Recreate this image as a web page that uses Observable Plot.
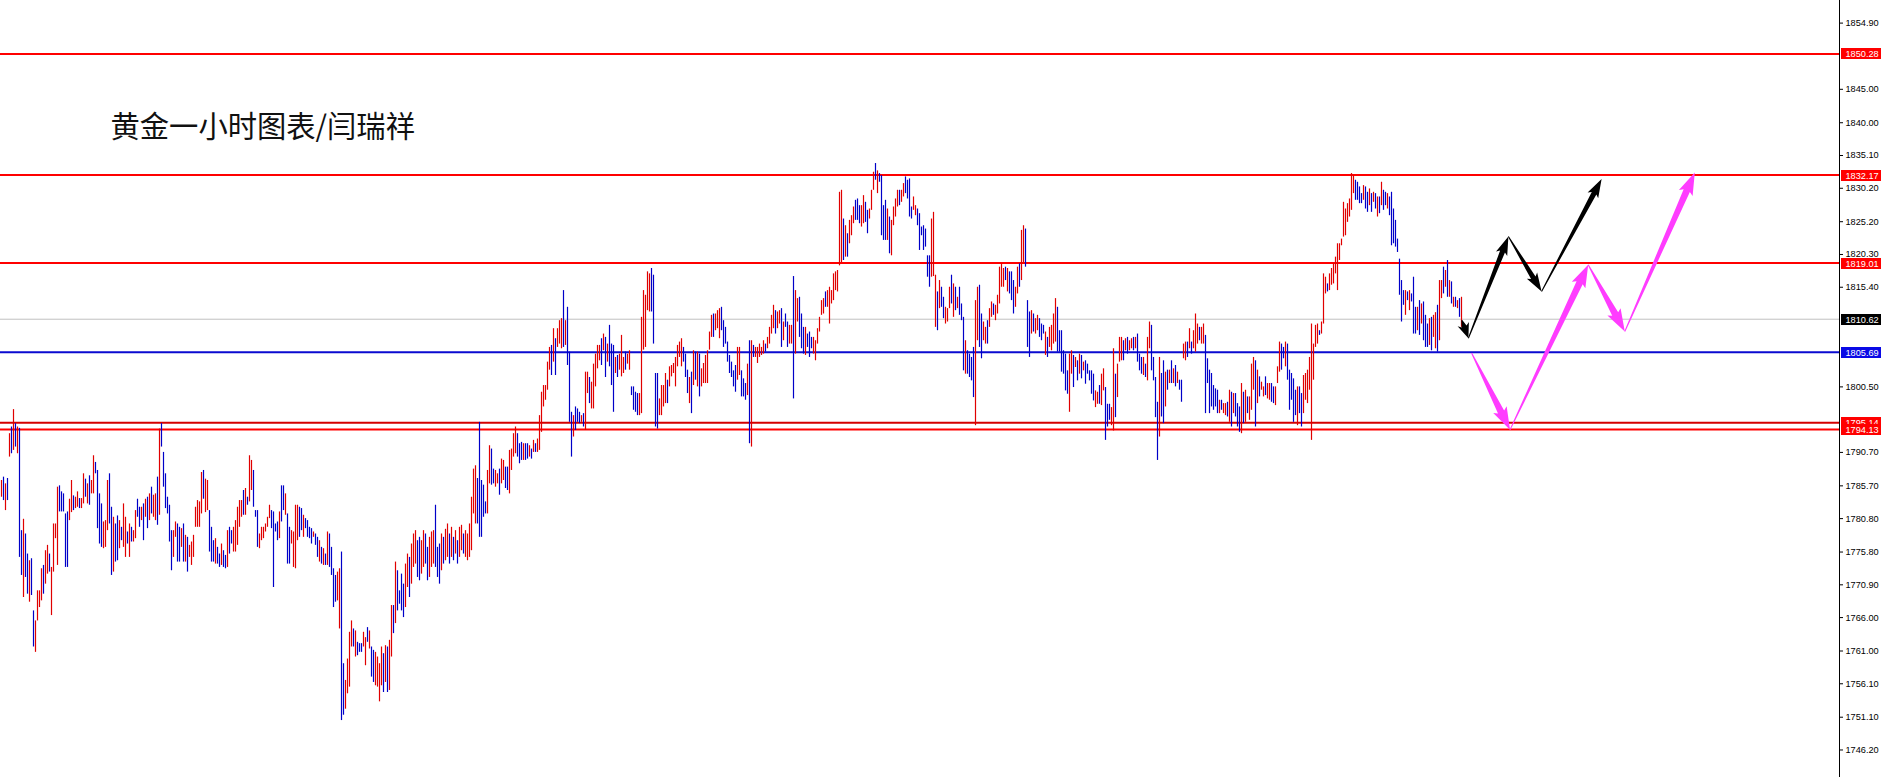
<!DOCTYPE html>
<html>
<head>
<meta charset="utf-8">
<script src="https://cdn.jsdelivr.net/npm/d3@7"></script>
<script src="https://cdn.jsdelivr.net/npm/@observablehq/plot@0.6"></script>
<style>
  html, body { margin: 0; padding: 0; background: #fff; overflow: hidden; }
  #chart svg { display: block; }
</style>
</head>
<body>
<div id="chart"></div>
<script>
// ---------- chart text ----------
const title = "黄金一小时图表/闫瑞祥";

// ---------- hourly bars (high / low / direction u=up d=down), bar 0 is the oldest ----------
const highs = [
1786.5,1787.0,1786.0,1786.8,1793.5,1794.5,1797.1,1795.0,1794.5,1794.3,
1779.0,1780.7,1778.5,1775.5,1774.5,1774.8,1767.0,1765.5,1770.0,1770.0,
1773.3,1773.8,1776.0,1776.8,1775.5,1773.5,1780.0,1780.0,1785.5,1785.7,
1784.8,1784.5,1781.5,1781.8,1783.7,1786.5,1784.2,1784.0,1784.8,1783.8,
1783.8,1787.5,1786.7,1786.0,1787.2,1786.5,1790.2,1789.2,1788.0,1784.5,
1783.0,1780.3,1780.5,1786.5,1787.5,1782.5,1781.0,1780.0,1781.2,1780.5,
1779.5,1783.0,1781.0,1778.8,1780.0,1779.5,1779.0,1782.0,1783.7,1782.5,
1782.5,1783.0,1783.7,1784.0,1784.5,1785.5,1784.3,1784.5,1787.0,1794.2,
1795.0,1790.7,1787.5,1784.0,1782.8,1779.0,1779.0,1780.3,1780.0,1779.5,
1779.3,1780.0,1778.3,1778.0,1776.8,1777.3,1778.3,1782.5,1783.5,1783.3,
1787.7,1788.0,1786.7,1786.5,1782.0,1779.5,1777.5,1777.8,1776.5,1775.5,
1777.0,1776.0,1775.3,1779.0,1779.5,1779.0,1779.5,1780.5,1782.5,1783.5,
1783.5,1785.0,1785.3,1784.0,1790.2,1789.5,1788.0,1782.0,1782.0,1778.5,
1779.5,1779.5,1780.0,1781.0,1782.8,1782.0,1781.8,1780.0,1780.3,1781.8,
1785.7,1785.7,1784.5,1781.5,1779.5,1779.0,1778.8,1782.8,1782.8,1782.5,
1782.3,1781.3,1780.8,1780.5,1779.5,1779.3,1778.8,1778.5,1778.0,1777.5,
1776.5,1776.3,1775.5,1778.8,1778.5,1776.5,1773.3,1772.3,1772.8,1773.3,
1775.8,1759.1,1756.6,1759.8,1763.8,1765.5,1764.3,1764.0,1762.3,1762.1,
1762.1,1763.8,1763.0,1764.5,1764.0,1761.6,1761.1,1760.8,1760.1,1759.1,
1761.6,1760.6,1761.8,1761.6,1762.6,1767.8,1767.8,1774.3,1773.0,1770.0,
1772.5,1771.0,1774.0,1775.5,1775.0,1777.0,1778.5,1779.0,1777.5,1778.0,
1777.5,1779.0,1778.5,1776.5,1778.0,1778.8,1779.0,1782.8,1776.5,1777.0,
1778.5,1778.0,1779.2,1780.0,1778.5,1779.5,1778.0,1779.0,1777.5,1779.5,
1779.8,1778.5,1779.0,1778.5,1780.0,1784.0,1788.2,1788.7,1786.8,1795.2,
1786.5,1785.8,1783.3,1788.0,1791.7,1791.2,1788.2,1788.0,1787.5,1788.2,
1789.7,1789.5,1788.5,1788.5,1791.0,1791.2,1793.5,1794.5,1793.5,1792.0,
1792.2,1792.0,1792.0,1792.0,1791.7,1791.2,1792.5,1792.0,1792.7,1796.2,
1799.7,1800.7,1800.7,1804.2,1806.4,1806.7,1809.2,1807.7,1809.2,1810.4,
1810.7,1814.9,1810.4,1812.4,1805.7,1796.7,1796.2,1797.5,1797.2,1796.7,
1796.2,1796.5,1802.7,1802.7,1801.9,1801.2,1803.9,1805.4,1806.7,1806.7,
1807.7,1808.4,1807.9,1806.9,1809.7,1806.9,1806.7,1804.9,1805.2,1805.4,
1808.2,1804.9,1805.7,1805.4,1805.9,1800.5,1800.5,1799.7,1799.5,1799.5,
1810.9,1814.9,1814.2,1817.7,1817.4,1818.2,1817.2,1802.5,1802.5,1798.7,
1800.7,1800.7,1802.5,1801.5,1803.5,1803.7,1804.0,1804.9,1806.7,1807.2,
1807.7,1806.4,1805.4,1803.0,1801.9,1802.7,1805.9,1805.7,1805.7,1805.4,
1803.2,1804.0,1805.2,1805.9,1808.7,1811.2,1811.4,1811.4,1811.9,1812.2,
1812.4,1810.4,1809.4,1807.2,1805.2,1804.2,1802.9,1803.7,1806.4,1806.4,
1802.9,1801.7,1801.0,1803.9,1807.4,1807.4,1806.7,1806.4,1806.4,1806.9,
1806.4,1807.4,1806.9,1807.9,1809.4,1811.2,1812.7,1811.9,1811.7,1811.9,
1812.2,1810.2,1811.4,1810.2,1809.7,1809.7,1817.0,1814.9,1813.7,1813.9,
1811.4,1809.4,1809.4,1808.4,1808.7,1807.9,1807.9,1807.4,1809.2,1810.9,
1813.4,1813.7,1814.7,1814.9,1815.4,1814.9,1817.4,1817.7,1817.9,1829.6,
1829.9,1825.6,1824.6,1823.4,1825.4,1826.1,1827.4,1828.4,1828.6,1827.6,
1827.6,1829.1,1828.1,1826.9,1827.1,1829.9,1832.6,1833.9,1832.8,1832.4,
1832.1,1827.6,1828.4,1827.1,1825.9,1825.4,1827.4,1828.6,1829.9,1829.9,
1829.9,1830.9,1831.9,1831.4,1831.6,1827.4,1828.9,1827.6,1827.1,1826.4,
1824.4,1824.6,1824.1,1820.1,1820.1,1825.6,1826.6,1817.2,1814.7,1816.4,
1815.4,1813.9,1812.4,1812.2,1815.4,1817.2,1815.9,1815.4,1813.9,1815.4,
1812.9,1810.9,1807.4,1805.9,1805.4,1804.9,1806.4,1813.4,1815.4,1815.7,
1811.4,1810.2,1809.4,1810.4,1812.2,1813.2,1812.9,1812.7,1814.2,1818.4,
1818.9,1818.2,1818.4,1818.2,1817.7,1817.7,1816.4,1815.4,1818.4,1818.9,
1823.9,1824.6,1824.1,1813.4,1811.7,1811.9,1811.4,1810.7,1811.2,1810.7,
1809.9,1809.7,1808.7,1807.9,1809.4,1809.7,1811.4,1813.7,1812.4,1808.9,
1808.9,1805.9,1805.4,1802.9,1805.4,1805.9,1805.2,1804.9,1804.4,1805.4,
1805.2,1804.2,1804.4,1803.9,1802.9,1802.9,1802.4,1799.9,1799.7,1800.7,
1802.4,1803.2,1800.4,1797.9,1797.9,1797.4,1806.2,1802.4,1803.9,1807.9,
1807.9,1807.4,1807.7,1807.9,1807.4,1807.7,1807.9,1807.9,1808.4,1805.4,
1804.9,1804.9,1803.9,1807.9,1810.2,1809.7,1804.9,1801.9,1798.2,1804.9,
1802.5,1804.4,1802.7,1803.0,1803.0,1804.4,1803.2,1803.7,1802.7,1801.5,
1801.5,1806.9,1807.2,1807.2,1809.2,1807.2,1808.9,1811.4,1809.9,1809.4,
1809.4,1809.9,1808.2,1804.7,1803.0,1802.5,1800.7,1800.2,1800.0,1798.5,
1798.5,1798.0,1798.0,1798.2,1800.0,1799.7,1799.5,1799.5,1798.0,1797.5,
1801.0,1799.7,1800.0,1799.0,1799.0,1803.9,1804.9,1804.4,1803.0,1802.0,
1801.2,1800.5,1802.0,1801.0,1801.0,1801.0,1800.5,1800.5,1803.5,1807.2,
1806.9,1806.4,1807.2,1806.9,1803.0,1802.5,1801.7,1800.0,1800.5,1800.5,
1799.5,1802.2,1802.5,1803.0,1804.9,1809.9,1806.9,1809.7,1809.9,1808.9,
1810.2,1817.4,1816.9,1815.9,1817.4,1818.2,1818.9,1819.9,1821.9,1821.9,
1822.6,1828.1,1827.1,1827.9,1828.6,1832.4,1832.1,1831.4,1831.1,1830.4,
1829.4,1830.6,1830.4,1829.6,1830.1,1829.4,1829.6,1829.4,1828.9,1828.9,
1831.1,1829.9,1829.6,1829.4,1828.9,1829.6,1827.1,1825.4,1822.6,1819.6,
1816.4,1814.9,1814.9,1814.7,1814.9,1814.4,1816.9,1812.4,1812.4,1813.4,
1812.9,1813.2,1811.2,1809.9,1810.7,1810.9,1811.2,1811.6,1812.7,1816.4,
1816.4,1818.4,1817.9,1819.4,1816.4,1816.2,1813.9,1813.9,1813.4,1813.7,1813.9
];
const lows = [
1784.0,1783.5,1782.0,1783.5,1790.0,1790.5,1791.0,1791.5,1790.5,1775.0,
1772.3,1769.0,1772.0,1769.5,1768.3,1769.3,1761.6,1760.8,1765.5,1767.5,
1768.5,1769.5,1771.0,1772.5,1772.8,1766.3,1772.8,1777.8,1773.8,1781.8,
1781.8,1781.8,1773.5,1773.5,1780.5,1781.7,1782.0,1782.3,1782.5,1782.3,
1782.3,1783.0,1784.0,1783.0,1782.8,1784.5,1784.5,1787.5,1779.3,1777.0,
1776.5,1776.3,1776.5,1779.0,1780.0,1772.3,1772.8,1774.3,1774.5,1776.3,
1777.5,1776.5,1775.0,1777.0,1775.0,1777.3,1777.3,1777.8,1781.0,1779.5,
1780.5,1777.5,1781.0,1779.3,1780.5,1781.5,1781.0,1780.5,1779.8,1781.3,
1791.5,1785.5,1782.3,1781.5,1777.3,1773.0,1775.0,1778.0,1774.3,1774.3,
1776.5,1774.3,1774.3,1772.8,1775.0,1773.8,1775.0,1779.5,1779.5,1779.5,
1781.5,1783.7,1781.7,1782.0,1775.8,1774.3,1774.3,1774.0,1774.0,1773.5,
1773.8,1773.5,1773.3,1773.5,1775.5,1777.0,1775.8,1775.8,1776.8,1779.5,
1781.0,1781.3,1781.3,1782.8,1783.3,1785.0,1782.5,1781.0,1776.5,1776.3,
1777.5,1777.8,1778.8,1779.5,1780.8,1779.3,1770.5,1778.8,1777.5,1777.8,
1780.3,1782.0,1781.3,1774.0,1774.0,1777.0,1773.5,1773.3,1777.5,1778.0,
1779.0,1778.0,1779.3,1778.0,1777.8,1777.0,1778.0,1776.8,1775.0,1774.3,
1774.0,1773.8,1773.8,1773.8,1773.5,1772.3,1767.5,1768.3,1768.5,1764.3,
1750.6,1751.4,1752.3,1754.6,1755.6,1761.6,1761.6,1760.1,1760.3,1760.8,
1760.8,1761.6,1758.8,1762.3,1761.3,1757.1,1756.3,1755.8,1755.6,1753.4,
1755.8,1754.8,1756.3,1754.8,1755.1,1760.1,1763.6,1765.1,1767.0,1768.0,
1767.0,1766.0,1767.5,1770.5,1769.0,1771.0,1773.5,1774.0,1772.0,1771.5,
1772.5,1773.5,1774.0,1771.5,1772.0,1773.5,1774.0,1773.5,1772.0,1771.0,
1773.0,1774.0,1774.5,1775.0,1774.0,1775.0,1774.5,1775.5,1774.0,1775.0,
1776.0,1775.5,1775.0,1774.5,1775.0,1776.0,1781.5,1780.0,1780.0,1778.0,
1778.0,1781.0,1781.5,1781.5,1786.0,1785.8,1786.0,1785.5,1786.0,1784.3,
1786.0,1786.5,1785.3,1785.0,1784.5,1788.0,1790.0,1790.5,1790.0,1789.0,
1789.5,1789.5,1789.5,1789.7,1790.0,1789.7,1790.7,1790.7,1790.7,1791.0,
1793.7,1797.5,1798.5,1800.0,1803.0,1802.2,1804.2,1802.2,1806.4,1806.9,
1806.2,1806.4,1806.7,1803.7,1795.2,1790.0,1793.0,1794.0,1795.2,1795.0,
1795.2,1794.5,1794.0,1799.5,1798.0,1797.2,1797.2,1800.5,1803.2,1804.4,
1803.7,1805.9,1801.9,1804.2,1803.5,1800.7,1796.7,1802.5,1801.9,1803.0,
1802.0,1802.5,1803.0,1803.9,1803.0,1799.2,1797.0,1796.7,1796.2,1796.2,
1796.5,1806.0,1806.4,1811.9,1811.7,1811.7,1806.9,1794.5,1794.2,1796.2,
1796.2,1797.5,1798.0,1798.0,1800.5,1802.0,1802.5,1800.5,1803.5,1804.9,
1803.5,1804.2,1801.9,1799.5,1798.0,1796.5,1800.7,1801.5,1800.5,1799.0,
1800.5,1801.0,1801.0,1801.0,1806.0,1807.9,1807.9,1808.9,1809.2,1807.7,
1808.9,1806.4,1806.9,1804.2,1802.5,1801.9,1800.5,1799.7,1801.5,1802.2,
1799.0,1799.0,1798.5,1799.2,1792.0,1791.5,1804.9,1804.9,1804.0,1804.9,
1805.2,1805.4,1805.7,1806.2,1806.9,1808.4,1809.2,1808.4,1809.2,1809.9,
1806.4,1807.4,1809.4,1806.4,1806.9,1806.9,1798.7,1805.4,1810.2,1807.9,
1806.2,1805.4,1805.2,1806.4,1804.9,1806.2,1805.4,1804.4,1806.9,1808.7,
1811.2,1811.4,1812.4,1812.4,1809.9,1812.9,1813.4,1814.9,1814.7,1818.6,
1819.1,1819.4,1819.9,1819.9,1821.9,1823.1,1824.9,1825.4,1825.4,1824.9,
1824.4,1824.9,1825.1,1823.4,1825.6,1826.9,1829.9,1831.4,1829.4,1831.1,
1823.1,1822.4,1822.4,1822.4,1820.4,1820.1,1824.6,1825.9,1827.4,1827.6,
1828.1,1828.9,1829.4,1828.6,1825.9,1825.6,1826.9,1826.1,1824.6,1820.9,
1823.1,1820.9,1821.4,1816.9,1815.4,1816.9,1817.0,1809.4,1808.9,1812.2,
1812.4,1810.7,1809.9,1810.2,1812.2,1812.9,1810.9,1811.9,1812.2,1811.2,
1810.4,1802.9,1802.4,1802.4,1801.9,1801.4,1798.9,1794.7,1807.4,1806.4,
1804.7,1807.4,1806.9,1806.9,1809.4,1810.9,1811.2,1810.4,1811.4,1812.9,
1815.4,1815.4,1816.4,1814.7,1814.4,1813.4,1811.4,1812.4,1814.4,1815.4,
1816.4,1819.1,1818.4,1806.4,1804.9,1808.4,1808.7,1808.4,1808.9,1807.9,
1807.4,1808.4,1805.2,1804.9,1806.4,1805.9,1806.9,1807.2,1805.7,1805.7,
1802.7,1802.4,1799.9,1799.4,1796.7,1802.4,1800.4,1803.4,1801.4,1802.4,
1801.7,1802.9,1800.9,1802.4,1801.4,1799.4,1798.4,1797.4,1797.9,1797.9,
1797.7,1799.9,1792.5,1794.5,1795.5,1794.7,1793.9,1795.9,1798.9,1804.2,
1804.4,1804.4,1805.9,1805.4,1805.9,1806.2,1805.9,1806.2,1804.2,1802.9,
1802.4,1802.2,1801.9,1801.4,1806.2,1802.9,1801.4,1795.9,1789.5,1793.0,
1796.0,1795.0,1797.5,1800.0,1801.0,1801.0,1801.0,1800.5,1801.0,1800.0,
1798.2,1804.7,1804.4,1804.9,1806.2,1805.4,1806.2,1805.7,1806.9,1807.4,
1806.9,1806.9,1796.5,1801.0,1796.5,1797.5,1797.0,1797.5,1796.5,1796.5,
1797.0,1796.5,1796.2,1796.0,1795.2,1794.5,1796.5,1796.0,1794.5,1793.7,
1793.5,1795.0,1795.2,1796.5,1795.5,1797.0,1800.0,1794.5,1798.0,1799.0,
1800.0,1799.0,1799.2,1798.7,1798.5,1798.2,1798.0,1797.7,1801.0,1802.7,
1803.0,1804.7,1803.5,1801.5,1797.0,1798.5,1795.2,1796.2,1794.7,1796.5,
1794.5,1796.5,1798.5,1798.0,1800.0,1792.5,1801.5,1806.4,1806.9,1808.2,
1808.4,1809.9,1814.4,1814.7,1814.9,1815.7,1815.9,1817.4,1814.9,1819.4,
1821.6,1822.9,1823.1,1825.1,1825.9,1826.9,1829.4,1828.4,1828.4,1827.9,
1827.9,1828.4,1827.1,1826.6,1827.6,1826.6,1828.1,1827.1,1825.9,1826.4,
1827.6,1826.9,1827.6,1827.1,1826.1,1821.6,1821.9,1821.4,1820.6,1814.2,
1810.2,1812.7,1811.2,1813.4,1811.9,1813.2,1808.4,1808.4,1808.9,1808.2,
1809.9,1807.4,1806.4,1806.4,1806.7,1805.9,1807.9,1806.2,1805.7,1807.4,
1813.7,1814.4,1815.4,1813.9,1813.9,1812.9,1812.4,1812.4,1812.2,1810.9,1809.4
];
const dirs = [
"ududududud","duddudduuu","uduuduuuud","dddduuduud","uududuuddd",
"duuudduddu","duududuudd","udududuudu","dddddduudd","ududuuuuuu",
"uduudddudd","uddudduuuu","ududuudddu","uuuuuddddu","ddudduuuud",
"dudddduddu","dududddduu","dduuuududd","duududduuu","ududuududd",
"dduuduuudd","uudduuuddd","uduudududu","uduuuuuudd","ddduudduud",
"uudduuuudd","duddududuu","uuuuududuu","ududdduddd","uduuduuuuu",
"dududddudu","uuduuddddu","uuuuuddddu","uuuduuuuuu","udddududud",
"uuuuuuduuu","dddddddduu","dddududuuu","uuduuuuduu","dudduuduud",
"dduddduuuu","uuduuuuuuu","ududuuuddd","uudduuudud","ddduduuuud",
"uudddduudd","ddddduuudu","dduuududud","ddudddduud","duuduuduuu",
"uududdduud","uuddduduud","dduduuuudd","dddduududu","duddddduud",
"uuddduuduu","ududuududd","duduuddddu","ddudududud","duududuuud",
"uudddddddu","duudududdd","ududuuudud","uuduudduuu","ddudddddud",
"duuuuuuuud","uuuduuuuuu","uuuuuuuddd","duddududud","uddudddddd",
"ddududddud","uddduduudu","udududududu"
].join("");

// ---------- horizontal price levels ----------
const levelPrices = [1850.28, 1832.17, 1819.01, 1810.62, 1805.69, 1795.14, 1794.13];
const levelColors = ["#ff0000", "#ff0000", "#ff0000", "#c0c0c0", "#0a0ad0", "#d40000", "#ff0000"];
const levelWidths = [2, 2, 2, 1, 2, 2, 2];
const labelColors = ["#ff0000", "#ff0000", "#ff0000", "#000000", "#0a0ae6", "#ff0000", "#ff0000"];

// ---------- price axis tick labels ----------
const tickValues = [1854.90, 1845.00, 1840.00, 1835.10, 1830.20, 1825.20, 1820.30, 1815.40,
  1800.50, 1790.70, 1785.70, 1780.80, 1775.80, 1770.90, 1766.00, 1761.00, 1756.10, 1751.10, 1746.20];

// ---------- forecast arrows (bar position, price) ----------
const blackX = [730.4, 733.7, 753.7, 770.3, 800.3];
const blackY = [1810.4, 1807.7, 1822.9, 1814.7, 1831.5];
const magentaX = [735.3, 754.5, 793.6, 811.9, 846.9];
const magentaY = [1805.5, 1794.0, 1818.7, 1808.7, 1832.5];

// ---------- build ----------
const UP = "#e00000", DOWN = "#0000c8";
const n = Math.min(highs.length, lows.length, dirs.length);
const bars = [];
for (let i = 0; i < n; i++) bars.push({i, high: highs[i], low: lows[i], up: dirs[i] === "u"});
const levels = levelPrices.map((p, k) => ({price: p, color: levelColors[k], width: levelWidths[k], label: labelColors[k]}));

function wedge(x0, y0, x1, y1, headLen, headHalf, shaftHalf, tailHalf) {
  const dx = x1 - x0, dy = y1 - y0, L = Math.hypot(dx, dy);
  const ux = dx / L, uy = dy / L, nx = -uy, ny = ux;
  const h = Math.min(headLen, L * 0.65);
  const bx = x1 - ux * h, by = y1 - uy * h;
  const pts = [
    [x0 + nx * tailHalf, y0 + ny * tailHalf],
    [bx + nx * shaftHalf, by + ny * shaftHalf],
    [bx + nx * headHalf - ux * 2.5, by + ny * headHalf - uy * 2.5],
    [x1, y1],
    [bx - nx * headHalf - ux * 2.5, by - ny * headHalf - uy * 2.5],
    [bx - nx * shaftHalf, by - ny * shaftHalf],
    [x0 - nx * tailHalf, y0 - ny * tailHalf]
  ];
  return pts.map(p => p[0].toFixed(2) + "," + p[1].toFixed(2)).join(" ");
}

const arrowsMark = (index, scales) => {
  const g = d3.create("svg:g");
  const chains = [
    {xs: blackX, ys: blackY, fill: "#000000", head: 16, half: 6, shaft: 2.6},
    {xs: magentaX, ys: magentaY, fill: "#ff3cff", head: 20, half: 7.5, shaft: 3.4}
  ];
  for (const c of chains) {
    for (let k = 0; k < c.xs.length - 1; k++) {
      const x0 = scales.x(c.xs[k]), y0 = scales.y(c.ys[k]);
      const x1 = scales.x(c.xs[k + 1]), y1 = scales.y(c.ys[k + 1]);
      g.append("polygon")
        .attr("points", wedge(x0, y0, x1, y1, c.head, c.half, c.shaft, 0.5))
        .attr("fill", c.fill);
    }
  }
  return g.node();
};

const labelsMark = (index, scales, values, dims) => {
  const g = d3.create("svg:g").attr("text-anchor", "start");
  const x0 = dims.width - dims.marginRight + 2;
  for (const l of levels) {
    const y = Math.round(scales.y(l.price));
    g.append("rect").attr("x", x0).attr("y", y - 5).attr("width", dims.marginRight - 2).attr("height", 11).attr("fill", l.label);
    g.append("text").attr("x", x0 + 4.5).attr("y", y + 0.5).attr("dy", "0.35em")
      .attr("text-anchor", "start")
      .attr("fill", "#ffffff").attr("font-size", "9.2px")
      .attr("font-family", "'Liberation Sans', Arial, sans-serif")
      .text(l.price.toFixed(2));
  }
  return g.node();
};

const chart = Plot.plot({
  width: 1881,
  height: 777,
  marginLeft: 0,
  marginRight: 42,
  marginTop: 0,
  marginBottom: 0,
  style: {background: "#ffffff", fontFamily: "'Liberation Sans', Arial, sans-serif", fontSize: "9.2px", color: "#000000"},
  x: {domain: [-0.5, 919], axis: null},
  y: {domain: [1742.085, 1858.28], axis: "right", ticks: tickValues, tickFormat: d => d.toFixed(2), tickSize: 3, tickPadding: 3, label: null},
  marks: [
    ...levels.map(l => Plot.ruleY([l.price], {stroke: l.color, strokeWidth: l.width})),
    Plot.ruleX(bars.filter(d => d.up), {x: "i", y1: "low", y2: "high", stroke: UP, strokeWidth: 1.2}),
    Plot.ruleX(bars.filter(d => !d.up), {x: "i", y1: "low", y2: "high", stroke: DOWN, strokeWidth: 1.2}),
    arrowsMark,
    Plot.ruleX([919], {stroke: "#000000", strokeWidth: 1}),
    Plot.text([title], {frameAnchor: "top-left", dx: 110, dy: 127, textAnchor: "start", lineAnchor: "middle",
      fontSize: 29.3, fontFamily: "'Noto Sans CJK SC', sans-serif", fill: "#111111"}),
    labelsMark
  ]
});
document.getElementById("chart").appendChild(chart);
</script>
</body>
</html>
